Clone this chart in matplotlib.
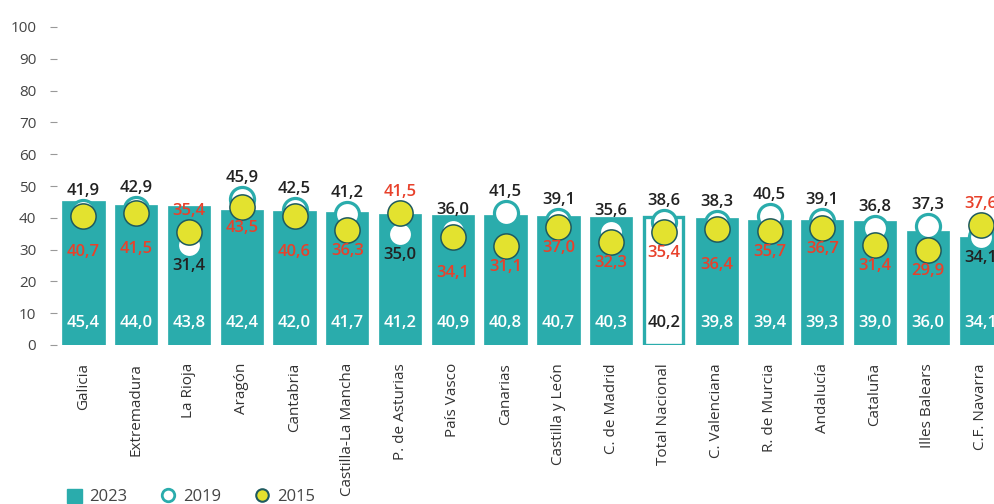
import matplotlib
matplotlib.use("Agg")
import matplotlib.pyplot as plt
from matplotlib.lines import Line2D
from matplotlib.patches import Patch

regions = ["Galicia", "Extremadura", "La Rioja", "Aragón", "Cantabria",
           "Castilla-La Mancha", "P. de Asturias", "País Vasco", "Canarias",
           "Castilla y León", "C. de Madrid", "Total Nacional", "C. Valenciana",
           "R. de Murcia", "Andalucía", "Cataluña", "Illes Balears", "C.F. Navarra"]
v2023 = [45.4, 44.0, 43.8, 42.4, 42.0, 41.7, 41.2, 40.9, 40.8, 40.7, 40.3, 40.2,
         39.8, 39.4, 39.3, 39.0, 36.0, 34.1]
v2019 = [41.9, 42.9, 31.4, 45.9, 42.5, 41.2, 35.0, 36.0, 41.5, 39.1, 35.6, 38.6,
         38.3, 40.5, 39.1, 36.8, 37.3, 34.1]
v2015 = [40.7, 41.5, 35.4, 43.5, 40.6, 36.3, 41.5, 34.1, 31.1, 37.0, 32.3, 35.4,
         36.4, 35.7, 36.7, 31.4, 29.9, 37.6]
yticks = [0, 10, 20, 30, 40, 50, 60, 70, 80, 90, 100]
total_label = "Total Nacional"

TEAL = "#2AACAC"
RED = "#E8412B"
YELLOW = "#E3E22F"
DARK = "#1E5A5F"
TXT = "#222222"

plt.rcParams['font.family'] = ['Open Sans', 'DejaVu Sans']

fig = plt.figure(figsize=(9.95, 5.04), dpi=100)
ax = fig.add_axes([57 / 995, (504 - 345) / 504, (1007 - 57) / 995, 318 / 504])

x = list(range(len(regions)))
for i, (r, v) in enumerate(zip(regions, v2023)):
    if r == total_label:
        ax.bar(i, v, width=0.74, color="white", edgecolor=TEAL, linewidth=2.4, zorder=2)
    else:
        ax.bar(i, v, width=0.8, color=TEAL, edgecolor=TEAL, linewidth=0.5, zorder=2)
    ax.annotate(f"{v:.1f}".replace(".", ","), (i, 0), xytext=(0, 22),
                textcoords="offset pixels", ha="center", va="center",
                fontsize=12, fontweight="semibold",
                color=TXT if r == total_label else "white", zorder=6)

ax.scatter(x, v2019, s=300, facecolor="white", edgecolor=TEAL, linewidth=2.3, zorder=3)
ax.scatter(x, v2015, s=330, facecolor=YELLOW, edgecolor=DARK, linewidth=1.1, zorder=4)

for i in x:
    a, b = v2019[i], v2015[i]
    if a >= b:
        hi, hic, lo, loc = a, TXT, b, RED
    else:
        hi, hic, lo, loc = b, RED, a, TXT
    ax.annotate(f"{hi:.1f}".replace(".", ","), (i, hi), xytext=(0, 21),
                textcoords="offset pixels", ha="center", va="center",
                fontsize=12, fontweight="semibold", color=hic, zorder=6)
    off = 36 if abs(a - b) < 2.0 else 21
    ax.annotate(f"{lo:.1f}".replace(".", ","), (i, lo), xytext=(0, -off),
                textcoords="offset pixels", ha="center", va="center",
                fontsize=12, fontweight="semibold", color=loc, zorder=6)

ax.set_xlim(-0.5, len(regions) - 0.5)
ax.set_ylim(0, 100)
ax.set_yticks(yticks)
ax.set_yticklabels([str(t) for t in yticks], fontsize=11, color="#444444")
ax.tick_params(axis="y", length=5, width=0.8, color="#999999", pad=10)
ax.set_xticks(x)
ax.set_xticklabels(regions, rotation=90, fontsize=11, color="#333333", va="top", ha="center")
ax.tick_params(axis="x", length=0, pad=13)
for s in ax.spines.values():
    s.set_visible(False)

handles = [
    Patch(facecolor=TEAL, edgecolor=TEAL, label="2023"),
    Line2D([], [], marker="o", linestyle="none", markersize=9, markerfacecolor="white",
           markeredgecolor=TEAL, markeredgewidth=2, label="2019"),
    Line2D([], [], marker="o", linestyle="none", markersize=9, markerfacecolor=YELLOW,
           markeredgecolor=DARK, markeredgewidth=1.5, label="2015"),
]
fig.legend(handles=handles, loc="center left", bbox_to_anchor=(52 / 995, 1 - 497 / 504),
           ncol=3, frameon=False, fontsize=12, handlelength=0.9, handleheight=0.9,
           handletextpad=0.45, columnspacing=2.0, labelcolor="#444444")

fig.savefig("out.png", dpi=100)
